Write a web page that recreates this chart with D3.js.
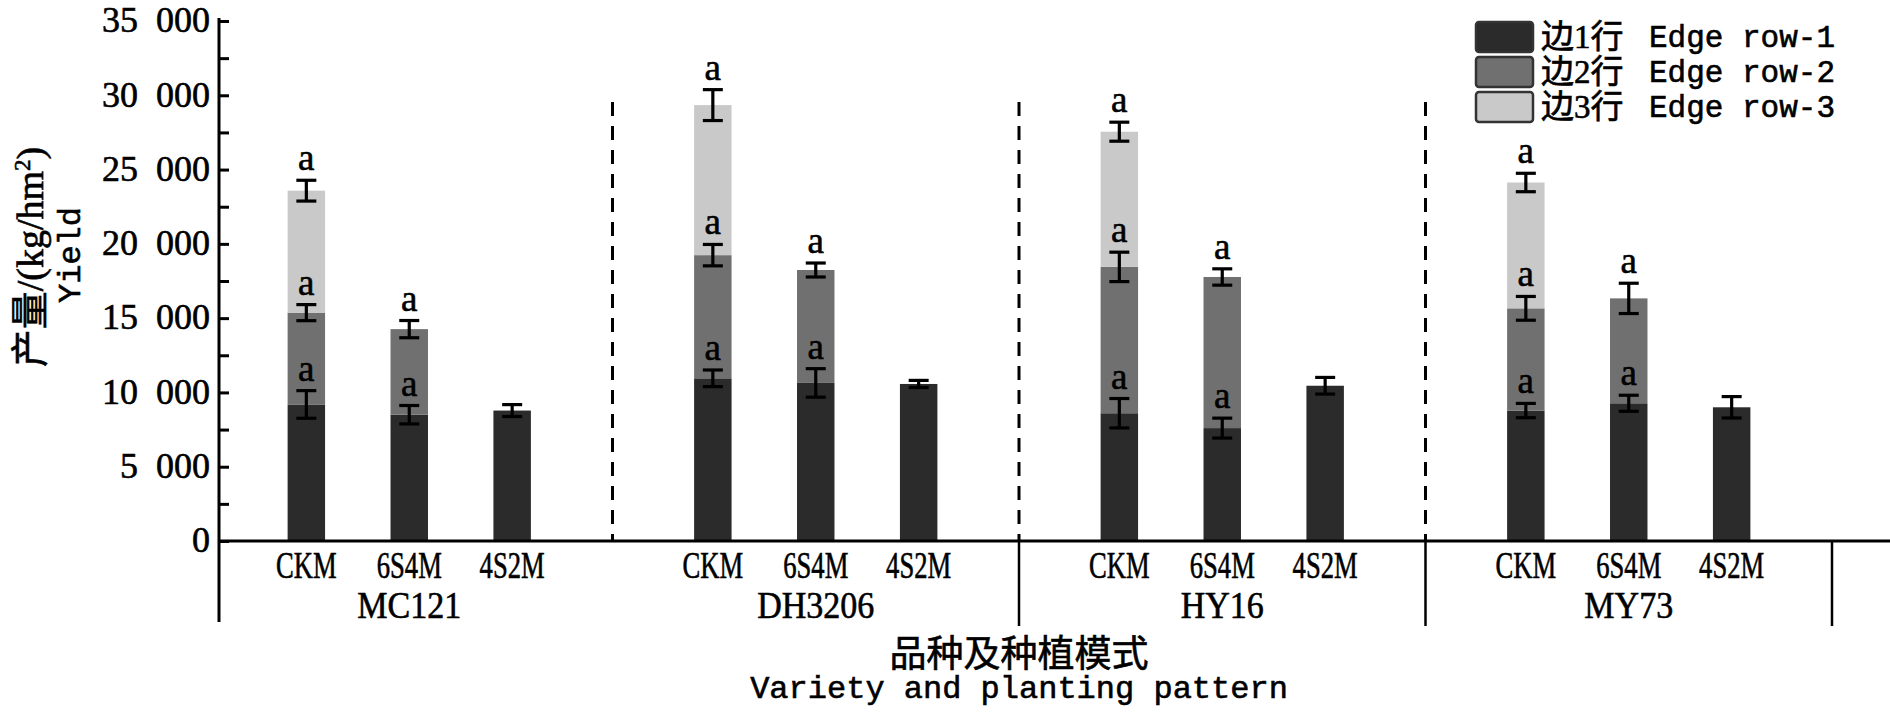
<!DOCTYPE html>
<html>
<head>
<meta charset="utf-8">
<script src="https://cdn.jsdelivr.net/npm/d3@7"></script>
<style>
    body { margin: 0; background: #fff; }
    text { fill: #000; stroke: #000; stroke-width: 0.6px; }
</style>
</head>
<body>
<div id="chart-area"></div>
<script>
//____________________________DATA________________________//
const varieties = ['MC121', 'DH3206', 'HY16', 'MY73']
const patterns = ['CKM', '6S4M', '4S2M']
const rowNames = ['边1行', '边2行', '边3行']
const rowNamesEn = ['Edge row-1', 'Edge row-2', 'Edge row-3']
const rowColors = ['#2b2b2b', '#707070', '#c9c9c9']

// yield of each edge row (kg/hm2), order: variety by pattern
const row1Yield = [9190, 8500, 8780, 10950, 10640, 10570, 8600, 7600, 10450, 8780, 9270, 9000]
const row2Yield = [6180, 5760, 0, 8290, 7600, 0, 9850, 10170, 0, 6880, 7060, 0]
const row3Yield = [8210, 0, 0, 10100, 0, 0, 9100, 0, 0, 8470, 0, 0]

const row1Err = [930, 620, 400, 560, 960, 240, 990, 670, 560, 480, 540, 720]
const row2Err = [540, 580, null, 720, 470, null, 990, 550, null, 800, 1020, null]
const row3Err = [700, null, null, 1040, null, null, 640, null, null, 620, null, null]

const row1Letter = ['a', 'a', '', 'a', 'a', '', 'a', 'a', '', 'a', 'a', '']
const row2Letter = ['a', 'a', '', 'a', 'a', '', 'a', 'a', '', 'a', 'a', '']
const row3Letter = ['a', '', '', 'a', '', '', 'a', '', '', 'a', '', '']

const yTicks = d3.range(0, 35001, 2500)

const WIDTH = 1890
const HEIGHT = 728
const SERIF = '"Liberation Serif", "Noto Sans CJK SC", serif'
const MONO = '"Liberation Mono", monospace'

//____________________________TABLE________________________//
const bars = []
varieties.forEach((v, i) => {
    patterns.forEach((p, j) => {
        const k = i * patterns.length + j
        bars.push({variety: v, pattern: p, k: k, r1: row1Yield[k], r2: row2Yield[k], r3: row3Yield[k]})
    })
})
const errs = [row1Err, row2Err, row3Err]
const letters = [row1Letter, row2Letter, row3Letter]

const series = d3.stack().keys(['r1', 'r2', 'r3'])(bars)

//____________________________SCALES________________________//
const x0 = d3.scaleBand()
    .domain(varieties)
    .range([206, 1832])

const x1 = d3.scaleBand()
    .domain(patterns)
    .range([0, x0.bandwidth()])
    .paddingInner(0.636)
    .paddingOuter(0.793)

const y = d3.scaleLinear()
    .domain([0, 35000])
    .range([541, 21])

const barX = d => x0(d.variety) + x1(d.pattern)
const barC = d => barX(d) + x1.bandwidth() / 2

const svg = d3.select('#chart-area').append('svg')
    .attr('width', WIDTH)
    .attr('height', HEIGHT)
    .style('background', '#fff')

//____________________________BARS________________________//
const barGroup = svg.append('g').attr('class', 'bars')

series.forEach((s, si) => {
    barGroup.append('g')
        .attr('fill', rowColors[si])
        .selectAll('rect')
        .data(s.filter(d => d[1] - d[0] > 0))
        .join('rect')
        .attr('x', d => barX(d.data))
        .attr('y', d => y(d[1]))
        .attr('width', x1.bandwidth())
        .attr('height', d => y(d[0]) - y(d[1]))
})

//____________________________ERROR BARS + LETTERS________________________//
const errGroup = svg.append('g')
    .attr('class', 'errors')
    .attr('stroke', '#000')
    .attr('stroke-width', 3.2)

series.forEach((s, si) => {
    const withErr = s.filter(d => errs[si][d.data.k] != null)
    const g = errGroup.append('g')
    g.selectAll('.stem')
        .data(withErr)
        .join('line')
        .attr('class', 'stem')
        .attr('x1', d => barC(d.data))
        .attr('x2', d => barC(d.data))
        .attr('y1', d => y(d[1] - errs[si][d.data.k]))
        .attr('y2', d => y(d[1] + errs[si][d.data.k]))
    g.selectAll('.cap')
        .data(withErr.flatMap(d => [d[1] - errs[si][d.data.k], d[1] + errs[si][d.data.k]].map(v => ({d: d, v: v}))))
        .join('line')
        .attr('class', 'cap')
        .attr('x1', c => barC(c.d.data) - 10)
        .attr('x2', c => barC(c.d.data) + 10)
        .attr('y1', c => y(c.v))
        .attr('y2', c => y(c.v))

    svg.append('g')
        .selectAll('text')
        .data(s.filter(d => letters[si][d.data.k]))
        .join('text')
        .attr('x', d => barC(d.data))
        .attr('y', d => y(d[1] + errs[si][d.data.k]) - 10)
        .attr('text-anchor', 'middle')
        .style('font-family', SERIF)
        .style('font-size', '37px')
        .text(d => letters[si][d.data.k])
})

//____________________________SEPARATORS________________________//
svg.append('g')
    .attr('class', 'dashed')
    .selectAll('line')
    .data(varieties.slice(1))
    .join('line')
    .attr('x1', d => x0(d))
    .attr('x2', d => x0(d))
    .attr('y1', 102)
    .attr('y2', y(0))
    .attr('stroke', '#000')
    .attr('stroke-width', 3)
    .attr('stroke-dasharray', '14,10')

svg.append('g')
    .attr('class', 'group-lines')
    .selectAll('line')
    .data([x0('HY16'), x0('MY73'), x0.range()[1]])
    .join('line')
    .attr('x1', d => d)
    .attr('x2', d => d)
    .attr('y1', y(0))
    .attr('y2', 626)
    .attr('stroke', '#000')
    .attr('stroke-width', 2.5)

//____________________________AXES________________________//
const yAxis = d3.axisLeft(y)
    .tickValues(yTicks)
    .tickSizeInner(-10)
    .tickSizeOuter(0)
    .tickPadding(9)
    .tickFormat(d => d % 5000 === 0 ? d3.format(',')(d).replace(',', '\u2002') : '')

svg.append('g')
    .attr('transform', 'translate(219,0)')
    .call(yAxis)
    .call(g => g.select('.domain').remove())
    .call(g => g.selectAll('.tick line').attr('stroke', '#000').attr('stroke-width', 3))
    .call(g => g.selectAll('.tick text')
        .style('font-family', SERIF)
        .style('font-size', '36px')
        .attr('dy', '0.3em')
        .attr('fill', '#000'))

// axis lines
svg.append('line')
    .attr('x1', 219).attr('x2', 219)
    .attr('y1', 18).attr('y2', 622)
    .attr('stroke', '#000').attr('stroke-width', 3)

svg.append('line')
    .attr('x1', 219).attr('x2', WIDTH)
    .attr('y1', y(0)).attr('y2', y(0))
    .attr('stroke', '#000').attr('stroke-width', 3)

// pattern labels in each variety
varieties.forEach(v => {
    svg.append('g')
        .attr('transform', `translate(${x0(v)},${y(0)})`)
        .call(d3.axisBottom(x1).tickSize(0).tickPadding(11))
        .call(g => g.select('.domain').remove())
        .call(g => g.selectAll('.tick text')
            .style('font-family', SERIF)
            .style('font-size', '37px')
            .attr('fill', '#000')
            .attr('transform', 'scale(0.72,1)'))
})

// variety labels
svg.append('g')
    .attr('transform', `translate(0,${y(0)})`)
    .call(d3.axisBottom(x0).tickSize(0).tickPadding(51))
    .call(g => g.select('.domain').remove())
    .call(g => g.selectAll('.tick text')
        .style('font-family', SERIF)
        .style('font-size', '37px')
        .attr('fill', '#000')
        .attr('transform', 'scale(0.92,1)'))

//____________________________TITLES________________________//
svg.append('text')
    .attr('x', 1019)
    .attr('y', 667)
    .attr('text-anchor', 'middle')
    .style('font-family', SERIF)
    .style('font-size', '37px')
    .text('品种及种植模式')

svg.append('text')
    .attr('x', 1019)
    .attr('y', 698)
    .attr('text-anchor', 'middle')
    .style('font-family', MONO)
    .style('font-size', '32px')
    .text('Variety and planting pattern')

const yTitle = svg.append('text')
    .attr('transform', 'translate(43,257) rotate(-90)')
    .attr('text-anchor', 'middle')
    .style('font-family', SERIF)
    .style('font-size', '38px')
yTitle.append('tspan').text('产量/(kg/hm')
yTitle.append('tspan').attr('dy', -13).style('font-size', '23px').text('2')
yTitle.append('tspan').attr('dy', 13).text(')')

svg.append('text')
    .attr('transform', 'translate(80,255) rotate(-90)')
    .attr('text-anchor', 'middle')
    .style('font-family', MONO)
    .style('font-size', '32px')
    .text('Yield')

//____________________________LEGEND________________________//
const legend = svg.append('g')
    .attr('class', 'legend')
    .selectAll('g')
    .data(rowNames)
    .join('g')
    .attr('transform', (d, i) => `translate(1476,${22 + i * 35})`)

legend.append('rect')
    .attr('width', 57)
    .attr('height', 30)
    .attr('rx', 3)
    .attr('fill', (d, i) => rowColors[i])
    .attr('stroke', '#333')
    .attr('stroke-width', 2.5)

legend.append('text')
    .attr('x', 65)
    .attr('y', 26)
    .style('font-family', SERIF)
    .style('font-size', '33px')
    .text(d => d)

legend.append('text')
    .attr('x', 173)
    .attr('y', 25)
    .style('font-family', MONO)
    .style('font-size', '31px')
    .text((d, i) => rowNamesEn[i])
</script>
</body>
</html>
